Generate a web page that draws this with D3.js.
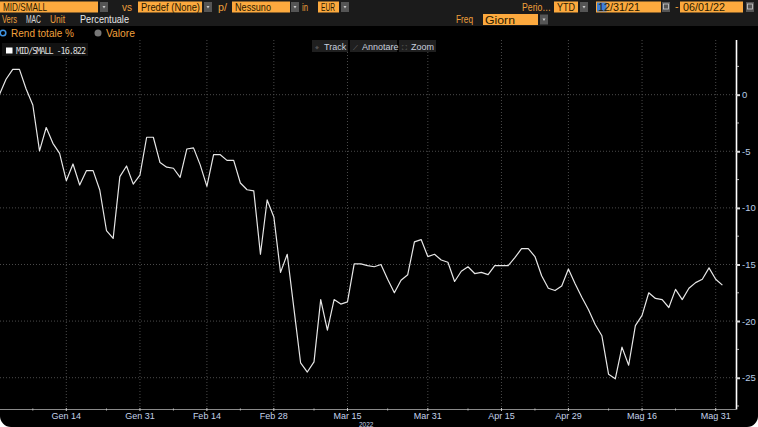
<!DOCTYPE html>
<html><head><meta charset="utf-8">
<script src="https://cdn.jsdelivr.net/npm/d3@7"></script>
<style>
html,body{margin:0;padding:0;background:#fff;}
#wrap{width:758px;height:427px;background:#000;border-radius:0 0 11px 11px;overflow:hidden;}
svg{display:block;}
</style></head>
<body><div id="wrap"></div>
<script>
// ---- data ----
const dates = [
"2021-12-31",
"2022-01-03","2022-01-04","2022-01-05","2022-01-06","2022-01-07",
"2022-01-10","2022-01-11","2022-01-12","2022-01-13","2022-01-14",
"2022-01-17","2022-01-18","2022-01-19","2022-01-20","2022-01-21",
"2022-01-24","2022-01-25","2022-01-26","2022-01-27","2022-01-28",
"2022-01-31","2022-02-01","2022-02-02","2022-02-03","2022-02-04",
"2022-02-07","2022-02-08","2022-02-09","2022-02-10","2022-02-11",
"2022-02-14","2022-02-15","2022-02-16","2022-02-17","2022-02-18",
"2022-02-21","2022-02-22","2022-02-23","2022-02-24","2022-02-25",
"2022-02-28","2022-03-01","2022-03-02","2022-03-03","2022-03-04",
"2022-03-07","2022-03-08","2022-03-09","2022-03-10","2022-03-11",
"2022-03-14","2022-03-15","2022-03-16","2022-03-17","2022-03-18",
"2022-03-21","2022-03-22","2022-03-23","2022-03-24","2022-03-25",
"2022-03-28","2022-03-29","2022-03-30","2022-03-31","2022-04-01",
"2022-04-04","2022-04-05","2022-04-06","2022-04-07","2022-04-08",
"2022-04-11","2022-04-12","2022-04-13","2022-04-14","2022-04-15",
"2022-04-18","2022-04-19","2022-04-20","2022-04-21","2022-04-22",
"2022-04-25","2022-04-26","2022-04-27","2022-04-28","2022-04-29",
"2022-05-02","2022-05-03","2022-05-04","2022-05-05","2022-05-06",
"2022-05-09","2022-05-10","2022-05-11","2022-05-12","2022-05-13",
"2022-05-16","2022-05-17","2022-05-18","2022-05-19","2022-05-20",
"2022-05-23","2022-05-24","2022-05-25","2022-05-26","2022-05-27",
"2022-05-30","2022-05-31","2022-06-01"];
const values = [
0.0,
1.36,2.24,2.24,0.5,-0.91,
-4.97,-2.9,-4.3,-5.18,-7.6,
-6.12,-7.98,-6.71,-6.71,-8.42,
-12.0,-12.7,-7.24,-6.3,-7.9,
-7.1,-3.76,-3.76,-6.0,-6.4,
-6.5,-7.3,-4.8,-4.7,-6.2,
-8.1,-5.3,-5.3,-5.8,-5.8,
-7.8,-8.4,-8.5,-14.1,-9.3,
-10.8,-15.7,-14.1,-18.9,-23.7,
-24.5,-23.6,-18.1,-20.8,-18.1,
-18.5,-18.3,-14.95,-14.95,-15.1,
-15.2,-15.0,-16.3,-17.5,-16.4,
-15.9,-13.0,-12.8,-14.3,-14.1,
-14.6,-14.8,-16.5,-15.6,-15.2,
-15.8,-15.7,-15.9,-15.1,-15.1,
-15.1,-14.4,-13.6,-13.6,-14.3,
-16.0,-17.1,-17.3,-16.9,-15.4,
-16.7,-17.9,-19.0,-20.3,-21.3,
-24.7,-25.1,-22.3,-23.9,-20.4,
-19.5,-17.5,-18.0,-18.1,-18.8,
-17.2,-18.1,-17.1,-16.6,-16.3,
-15.3,-16.3,-16.822];
const seriesName = "MID/SMALL";
const lastLabel = "-16.822";
const xTickDates = ["2022-01-14","2022-01-31","2022-02-14","2022-02-28","2022-03-15","2022-03-31","2022-04-15","2022-04-29","2022-05-16","2022-05-31"];
const xTickLabels = ["Gen 14","Gen 31","Feb 14","Feb 28","Mar 15","Mar 31","Apr 15","Apr 29","Mag 16","Mag 31"];
const xMinorDates = ["2022-01-07","2022-01-24","2022-02-07","2022-02-21","2022-03-08","2022-03-23","2022-04-08","2022-04-22","2022-05-09","2022-05-23"];
const yTicks = [0,-5,-10,-15,-20,-25];
const yMinor = [2.5,-2.5,-7.5,-12.5,-17.5,-22.5,-27.5];
const yearLabel = "2022";

// ---- layout ----
const W = 758, H = 427;
const plotTop = 40, plotBottom = 409.5, plotRight = 736;
const svg = d3.select("#wrap").append("svg").attr("width", W).attr("height", H);
const FONT = "'Liberation Sans', Arial, sans-serif";
const AMBER = "#f0a03c", BOX = "#fca93e", DARK = "#2a1a00";

const idx = d => dates.indexOf(d);
const x = d3.scaleLinear().domain([0, dates.length - 1]).range([-0.65, 722.4]);
const y = d3.scaleLinear().domain([4.83, -27.81]).range([plotTop, plotBottom]);

// ---- top toolbar ----
svg.append("rect").attr("x",0).attr("y",0).attr("width",W).attr("height",26).attr("fill","#1b1b1b");
function lbl(x0, yb, t, c, len, size=10.5) {
  const tx = svg.append("text").attr("x",x0).attr("y",yb).attr("font-family",FONT).attr("font-size",size).attr("fill",c).text(t);
  if (len) tx.attr("textLength",len).attr("lengthAdjust","spacingAndGlyphs");
  return tx;
}
function box(x0, w, label, len) {
  svg.append("rect").attr("x",x0).attr("y",1.5).attr("width",w).attr("height",11).attr("fill",BOX);
  lbl(x0+3, 11, label, DARK, len);
}
function arrow(x0, yy=2) {
  svg.append("rect").attr("x",x0).attr("y",yy).attr("width",8).attr("height",10).attr("fill","#555");
  svg.append("path").attr("d",`M${x0+2.5},${yy+4} L${x0+5.5},${yy+4} L${x0+4},${yy+6.5} Z`).attr("fill","#ccc");
}
function cal(x0) {
  svg.append("rect").attr("x",x0).attr("y",2).attr("width",8).attr("height",10).attr("fill","#555");
  svg.append("rect").attr("x",x0+1.5).attr("y",4).attr("width",5).attr("height",5).attr("fill","none").attr("stroke","#ccc").attr("stroke-width",0.8);
}
box(0, 98, "MID/SMALL", 44); arrow(100);
lbl(122, 11, "vs", AMBER, 10);
box(138, 64, "Predef (None)", 59); arrow(204);
lbl(218, 11, "p/", AMBER, 9);
box(232, 58, "Nessuno", 36); arrow(291);
lbl(302, 11, "in", AMBER, 6);
box(318, 21, "EUR", 14); arrow(341);
lbl(522, 11, "Perio…", AMBER, 29);
box(554, 24, "YTD", 18); arrow(580);
svg.append("rect").attr("x",596).attr("y",1.5).attr("width",65).attr("height",11).attr("fill",BOX);
svg.append("rect").attr("x",597).attr("y",2.5).attr("width",9.5).attr("height",9).attr("fill","#3d7fd6");
lbl(598, 11, "12/31/21", DARK, 42);
cal(662);
lbl(675, 10, "-", AMBER);
box(680, 63, "06/01/22", 42); cal(746);
lbl(2, 23, "Vers", AMBER, 15);
lbl(26, 23, "MAC", "#d8d8d8", 15);
lbl(50, 23, "Unit", AMBER, 15);
lbl(80, 23, "Percentuale", "#e8e8e8", 49);
lbl(456, 23, "Freq", AMBER, 17);
svg.append("rect").attr("x",483).attr("y",14).attr("width",55).attr("height",11).attr("fill",BOX);
lbl(485, 23.5, "Giorn", DARK, 30);
arrow(540, 14.5);

// radio row
svg.append("circle").attr("cx",3).attr("cy",33).attr("r",2.8).attr("fill","none").attr("stroke","#3f93e0").attr("stroke-width",1.6);
lbl(11, 37, "Rend totale %", AMBER, 63, 11.5);
svg.append("circle").attr("cx",98).attr("cy",33).attr("r",3.5).attr("fill","#777");
lbl(106, 37, "Valore", AMBER, 29, 11.5);

// ---- grid ----
const g = svg.append("g");
g.selectAll("line.vg").data(xTickDates).join("line")
  .attr("x1", d => x(idx(d))).attr("x2", d => x(idx(d)))
  .attr("y1", plotTop).attr("y2", plotBottom)
  .attr("stroke","#4a4a4a").attr("stroke-width",1).attr("stroke-dasharray","1,2");
g.selectAll("line.hg").data(yTicks).join("line")
  .attr("x1", 0).attr("x2", plotRight)
  .attr("y1", d => y(d)).attr("y2", d => y(d))
  .attr("stroke","#4a4a4a").attr("stroke-width",1).attr("stroke-dasharray","1,2");

// ---- line ----
svg.append("clipPath").attr("id","clip").append("rect").attr("x",0).attr("y",plotTop).attr("width",plotRight).attr("height",plotBottom-plotTop);
svg.append("path").datum(values).attr("clip-path","url(#clip)")
  .attr("d", d3.line().x((d,i) => x(i)).y(d => y(d)))
  .attr("fill","none").attr("stroke","#e6e6e6").attr("stroke-width",1.2).attr("stroke-linejoin","round");

// ---- right axis ----
const yAxis = d3.axisRight(y).tickValues(yTicks).tickSize(4).tickPadding(2).tickFormat(d => d === 0 ? "0" : "-" + Math.abs(d));
const ya = svg.append("g").attr("transform",`translate(${plotRight},0)`).call(yAxis);
ya.select(".domain").attr("stroke","#fff").attr("stroke-width",1.6).attr("d",`M0.5,${plotTop}V${plotBottom}`);
ya.selectAll(".tick line").attr("stroke","#ddd").attr("stroke-width",2);
ya.selectAll(".tick text").attr("fill","#b6cbe6").attr("font-family",FONT).attr("font-size",9.5);
ya.selectAll("line.minor").data(yMinor).join("line").attr("class","minor")
  .attr("x1",1).attr("x2",3).attr("y1",d=>y(d)).attr("y2",d=>y(d)).attr("stroke","#bbb").attr("stroke-width",1);

// ---- bottom axis ----
const xa = svg.append("g");
xa.append("line").attr("x1",0).attr("x2",plotRight).attr("y1",plotBottom).attr("y2",plotBottom).attr("stroke","#8a8a8a").attr("stroke-width",1);
xa.selectAll("line.maj").data(xTickDates).join("line").attr("class","maj")
  .attr("x1",d=>x(idx(d))).attr("x2",d=>x(idx(d))).attr("y1",plotBottom-1.5).attr("y2",plotBottom+1.5).attr("stroke","#ccc");
xa.selectAll("line.min").data(xMinorDates).join("line").attr("class","min")
  .attr("x1",d=>x(idx(d))).attr("x2",d=>x(idx(d))).attr("y1",plotBottom-1).attr("y2",plotBottom+1).attr("stroke","#bbb");
xa.selectAll("text.xl").data(xTickDates).join("text").attr("class","xl")
  .attr("x",d=>x(idx(d))).attr("y",419).attr("text-anchor","middle")
  .attr("font-family",FONT).attr("font-size",9).attr("fill","#c4d2ea")
  .text((d,i)=>xTickLabels[i]);
svg.append("text").attr("x",359).attr("y",426.5).attr("font-family",FONT).attr("font-size",6.5).attr("fill","#c4d2ea").text(yearLabel);

// ---- legend ----
svg.append("rect").attr("x",2).attr("y",43).attr("width",86).attr("height",13).attr("fill","#121212");
svg.append("rect").attr("x",6).attr("y",47.5).attr("width",6.5).attr("height",6).attr("fill","#fff");
svg.append("text").attr("x",16).attr("y",54).attr("font-family","'DejaVu Sans Mono', monospace").attr("font-size",8.5)
  .attr("fill","#dcdcdc").attr("textLength",70).text(seriesName + " " + lastLabel);

// ---- chart toolbar ----
const tb = [{x:312,w:36,t:"Track",ic:"⌖"},{x:350,w:47,t:"Annotare",ic:"⟋"},{x:399,w:37,t:"Zoom",ic:"⛶"}];
tb.forEach(b => {
  svg.append("rect").attr("x",b.x).attr("y",40).attr("width",b.w).attr("height",12).attr("fill","#1f1f1f");
  svg.append("text").attr("x",b.x+3).attr("y",49.5).attr("font-family",FONT).attr("font-size",7).attr("fill","#777").text(b.ic);
  svg.append("text").attr("x",b.x+12).attr("y",49.5).attr("font-family",FONT).attr("font-size",9).attr("fill","#c8d0de").text(b.t);
});
</script></body></html>
